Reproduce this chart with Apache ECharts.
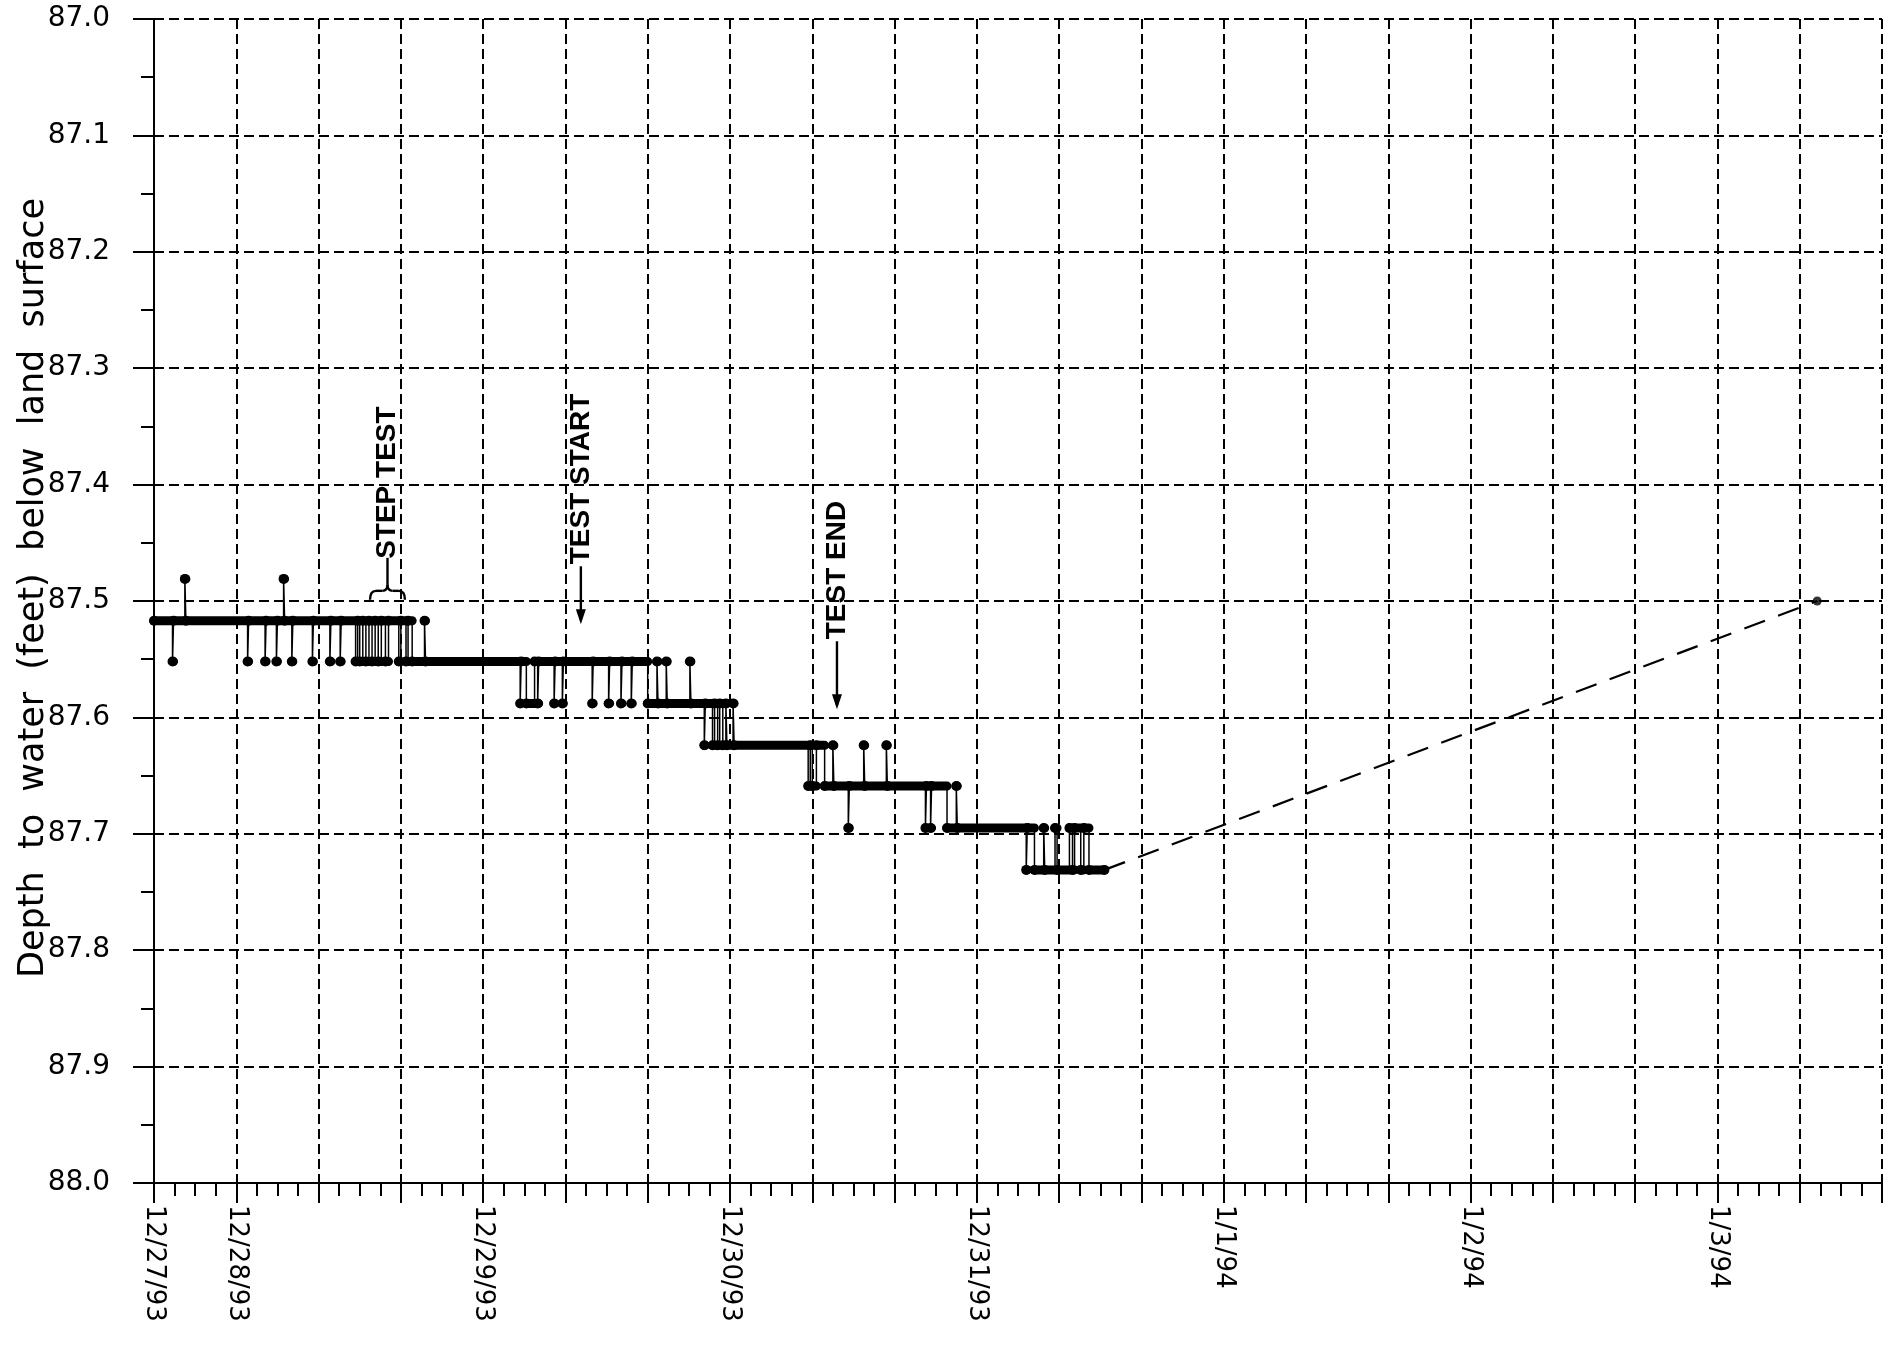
<!DOCTYPE html>
<html><head><meta charset="utf-8">
<script src="https://cdn.jsdelivr.net/npm/echarts@6/dist/echarts.min.js"></script>
<style>html,body{margin:0;padding:0;background:#fff}#c{width:1891px;height:1353px}</style>
</head><body><div id="c"></div>
<script>
// x values are hours counted from 12/27/93 00:00
const dateTickHours  = [16, 24, 48, 72, 96, 120, 144, 168];
const dateTickLabels = ['12/27/93', '12/28/93', '12/29/93', '12/30/93', '12/31/93', '1/1/94', '1/2/94', '1/3/94'];
const yAxisTitle = 'Depth  to  water  (feet)  below  land  surface';

// logger readings: [hour, depth to water (ft)], each held until the next reading
const readings = [
  [16.0, 87.517],
  [17.8, 87.552], [17.9, 87.517],
  [19.0, 87.481], [19.1, 87.517],
  [25.1, 87.552], [25.2, 87.517],
  [26.8, 87.552], [26.9, 87.517],
  [27.9, 87.552], [28.0, 87.517],
  [28.6, 87.481], [28.7, 87.517],
  [29.4, 87.552], [29.5, 87.517],
  [31.4, 87.552], [31.5, 87.517],
  [33.1, 87.552], [33.2, 87.517],
  [34.1, 87.552], [34.2, 87.517],
  [35.6, 87.552], [35.8, 87.517], [36.0, 87.552], [36.3, 87.517], [36.6, 87.552], [36.9, 87.517],
  [37.2, 87.552], [37.5, 87.517], [37.8, 87.552], [38.1, 87.517], [38.5, 87.552], [38.8, 87.517],
  [39.8, 87.552], [40.0, 87.517], [40.5, 87.552], [40.7, 87.517], [41.1, 87.552],
  [42.3, 87.517], [42.4, 87.552],
  [51.6, 87.588], [51.7, 87.552], [52.2, 87.588], [53.0, 87.552], [53.3, 87.588], [53.4, 87.552],
  [54.9, 87.588], [55.0, 87.552], [55.7, 87.588], [55.8, 87.552],
  [58.6, 87.588], [58.7, 87.552], [60.2, 87.588], [60.3, 87.552],
  [61.4, 87.588], [61.5, 87.552], [62.4, 87.588], [62.5, 87.552],
  [64.0, 87.588], [64.9, 87.552], [65.0, 87.588], [65.8, 87.552], [65.9, 87.588],
  [68.1, 87.552], [68.2, 87.588],
  [69.5, 87.624], [69.6, 87.588], [70.3, 87.624], [70.5, 87.588], [70.8, 87.624], [71.0, 87.588],
  [71.3, 87.624], [71.6, 87.588], [71.7, 87.624], [72.3, 87.588], [72.4, 87.624],
  [79.6, 87.659], [79.8, 87.624], [80.0, 87.659], [80.4, 87.624], [81.2, 87.659], [82.0, 87.624], [82.1, 87.659],
  [83.5, 87.695], [83.6, 87.659],
  [85.0, 87.624], [85.1, 87.659],
  [87.2, 87.624], [87.3, 87.659],
  [91.0, 87.695], [91.1, 87.659], [91.5, 87.695], [91.6, 87.659],
  [93.1, 87.695], [94.0, 87.659], [94.1, 87.695],
  [100.8, 87.731], [100.9, 87.695], [101.6, 87.731], [102.5, 87.695], [102.6, 87.731],
  [103.6, 87.695], [103.8, 87.731], [105.0, 87.695], [105.3, 87.731], [105.5, 87.695],
  [106.1, 87.731], [106.4, 87.695], [106.9, 87.731], [108.4, 87.731]
];

// later manual measurement
const manualReading = [177.7, 87.500];

// annotations anchored in data coordinates [hour, depth]
const stepTestSpan = [37.0, 40.4, 87.499];
const noteStepTest  = { text: 'STEP TEST',  at: [38.7, 87.499] };
const noteTestStart = { text: 'TEST START', at: [57.5, 87.520] };
const noteTestEnd   = { text: 'TEST END',   at: [82.4, 87.593] };

// ---------- build series data ----------
const bandData = [];
for (let i = 0; i < readings.length - 1; i++) {
  bandData.push([readings[i][0], readings[i][1]]);
  bandData.push([readings[i + 1][0], readings[i][1]]);
  bandData.push([readings[i + 1][0], '-']);
}
const lastReading = readings[readings.length - 1];

const FONT = 'DejaVu Sans';
const chart = echarts.init(document.getElementById('c'), null, { renderer: 'canvas' });

chart.setOption({
  animation: false,
  backgroundColor: '#fff',
  grid: { left: 154, right: 9, top: 19, bottom: 170, containLabel: false, outerBoundsMode: 'none' },
  xAxis: {
    type: 'value', min: 16, max: 184, interval: 8,
    axisLine: { show: true, onZero: false, lineStyle: { color: '#000', width: 2 } },
    axisTick: { show: true, length: 20, lineStyle: { color: '#000', width: 2 } },
    minorTick: { show: true, splitNumber: 4, length: 13, lineStyle: { color: '#000', width: 2 } },
    splitLine: { show: true, lineStyle: { color: '#000', width: 2, type: [10, 5] } },
    axisLabel: {
      rotate: -90, margin: 22, color: '#000', fontFamily: FONT, fontSize: 26,
      formatter: v => { const i = dateTickHours.indexOf(Math.round(v)); return i >= 0 ? dateTickLabels[i] : ''; }
    }
  },
  yAxis: {
    type: 'value', inverse: true, min: 87, max: 88, interval: 0.1,
    name: yAxisTitle, nameLocation: 'middle', nameRotate: 90, nameGap: 103, nameMoveOverlap: false,
    nameTextStyle: { color: '#000', fontFamily: FONT, fontSize: 35, padding: [0, 0, 0, 26] },
    axisLine: { show: true, lineStyle: { color: '#000', width: 2 } },
    axisTick: { show: true, length: 21, lineStyle: { color: '#000', width: 2 } },
    minorTick: { show: true, splitNumber: 2, length: 13, lineStyle: { color: '#000', width: 2 } },
    splitLine: { show: true, lineStyle: { color: '#000', width: 2, type: [10, 5] } },
    axisLabel: { margin: 44, color: '#000', fontFamily: FONT, fontSize: 28, formatter: v => v.toFixed(1) }
  },
  series: [
    {
      name: 'trace', type: 'line', step: 'end', data: readings,
      showSymbol: true, symbol: 'circle', symbolSize: 10,
      itemStyle: { color: '#000' }, lineStyle: { color: '#000', width: 1.5 }, z: 3
    },
    {
      name: 'band', type: 'line', data: bandData, showSymbol: false, connectNulls: false,
      lineStyle: { color: '#000', width: 9, cap: 'round', join: 'round' }, z: 4
    },
    {
      name: 'manual', type: 'line', data: [lastReading, manualReading], showSymbol: false,
      lineStyle: { color: '#000', width: 2.2, type: [22, 14] }, z: 3
    },
    {
      name: 'manualPoint', type: 'scatter', data: [manualReading], symbol: 'circle', symbolSize: 9,
      itemStyle: { color: '#000' }, z: 5
    }
  ]
});

// ---------- annotations ----------
const px = p => chart.convertToPixel({ gridIndex: 0 }, p);
const BOLD = 'bold 28px "Liberation Sans", Arial, sans-serif';
const g = [];
const stroke = { stroke: '#000', lineWidth: 2.4, fill: null };

// STEP TEST with brace
(function () {
  const a = px([stepTestSpan[0], stepTestSpan[2]]);
  const b = px([stepTestSpan[1], stepTestSpan[2]]);
  const c = px(noteStepTest.at);
  const yb = a[1], ym = yb - 9, xc = c[0], x0 = a[0], x1 = b[0];
  g.push({ type: 'bezierCurve', shape: { x1: x0, y1: yb, x2: x0 + 6, y2: ym, cpx1: x0, cpy1: ym }, style: stroke, z: 100 });
  g.push({ type: 'line', shape: { x1: x0 + 6, y1: ym, x2: xc - 5, y2: ym }, style: stroke, z: 100 });
  g.push({ type: 'bezierCurve', shape: { x1: xc - 5, y1: ym, x2: xc, y2: ym - 6, cpx1: xc, cpy1: ym }, style: stroke, z: 100 });
  g.push({ type: 'bezierCurve', shape: { x1: xc, y1: ym - 6, x2: xc + 5, y2: ym, cpx1: xc, cpy1: ym }, style: stroke, z: 100 });
  g.push({ type: 'line', shape: { x1: xc + 5, y1: ym, x2: x1 - 6, y2: ym }, style: stroke, z: 100 });
  g.push({ type: 'bezierCurve', shape: { x1: x1 - 6, y1: ym, x2: x1, y2: yb, cpx1: x1, cpy1: ym }, style: stroke, z: 100 });
  g.push({ type: 'line', shape: { x1: xc, y1: ym - 6, x2: xc, y2: ym - 33 }, style: stroke, z: 100 });
  g.push({ type: 'text', x: xc, y: ym - 32, rotation: Math.PI / 2,
    style: { text: noteStepTest.text, font: BOLD, fill: '#000', align: 'left', verticalAlign: 'middle' }, z: 100 });
})();

function arrowNote(note, len) {
  const t = px(note.at);
  const x = t[0], tip = t[1];
  g.push({ type: 'line', shape: { x1: x, y1: tip - 4, x2: x, y2: tip - len }, style: { stroke: '#000', lineWidth: 2.4 }, z: 100 });
  g.push({ type: 'polygon', shape: { points: [[x - 5, tip - 15], [x + 5, tip - 15], [x, tip]] }, style: { fill: '#000' }, z: 100 });
  g.push({ type: 'text', x: x, y: tip - len - 2, rotation: Math.PI / 2,
    style: { text: note.text, font: BOLD, fill: '#000', align: 'left', verticalAlign: 'middle' }, z: 100 });
}
arrowNote(noteTestStart, 58);
arrowNote(noteTestEnd, 68);

chart.setOption({ graphic: g });
</script></body></html>
